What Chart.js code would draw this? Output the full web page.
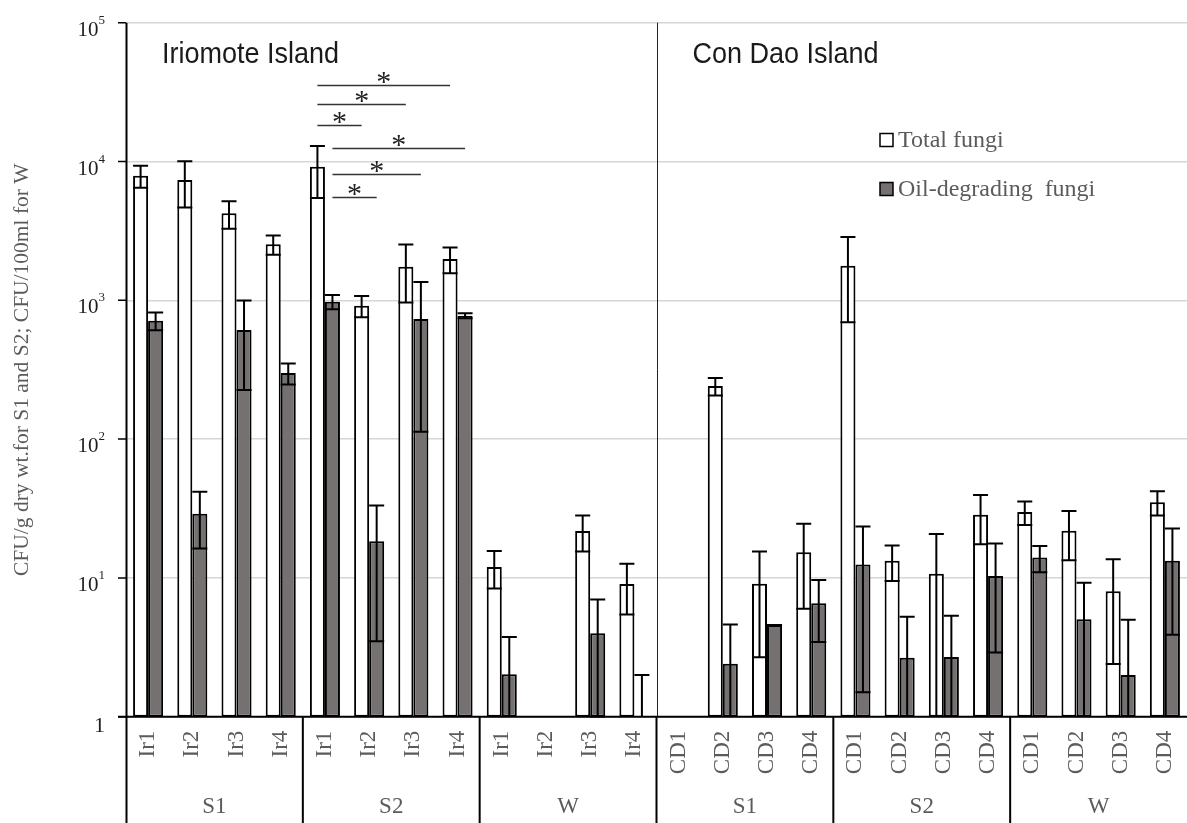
<!DOCTYPE html>
<html>
<head>
<meta charset="utf-8">
<title>Fungal counts – Iriomote and Con Dao islands</title>
<script src="https://cdn.jsdelivr.net/npm/chart.js@4/dist/chart.umd.min.js"></script>
<style>
  html, body { margin: 0; padding: 0; background: #ffffff; }
  #wrap { width: 1187px; height: 823px; }
</style>
</head>
<body>
<div id="wrap"><canvas id="chart" width="1187" height="823"></canvas></div>
<script>
// ---- data ----------------------------------------------------------------
const sites = ['Ir1','Ir2','Ir3','Ir4','Ir1','Ir2','Ir3','Ir4','Ir1','Ir2','Ir3','Ir4',
               'CD1','CD2','CD3','CD4','CD1','CD2','CD3','CD4','CD1','CD2','CD3','CD4'];
const sampleTypes = ['S1','S2','W','S1','S2','W'];
const islands = ['Iriomote Island','Con Dao Island'];
const seriesNames = ['Total fungi','Oil-degrading  fungi'];

// means and standard deviations (CFU); null = not detected
const totalMean = [7900, 7360, 4230, 2530, 9180, 914, 1746, 1985, 12.0, null, 21.8, 9.04,
                   null, 241, 9.08, 15.3, 1775, 13.3, 10.7, 28.5, 29.8, 21.9, 8.0, 35.1];
const totalSD   = [1430, 2700, 950, 400, 3730, 160, 780, 420, 3.6, null, 6.3, 3.6,
                   null, 35, 6.4, 9.3, 1080, 3.8, 10.0, 11.0, 5.7, 8.5, 5.6, 7.0];
const oilMean   = [713, 29.0, 611, 299, 977, 18.4, 733, 775, 2.02, null, 4.0, 1.0,
                   null, 2.41, 4.58, 6.56, 12.5, 2.66, 2.69, 10.3, 14.0, 5.03, 2.0, 13.3];
const oilSD     = [105, 12.7, 385, 52, 115, 14.9, 620, 32, 1.73, null, 3.0, 1.0,
                   null, 2.2, 0.0, 3.1, 11.0, 2.6, 2.65, 7.4, 3.0, 4.2, 3.0, 9.4];

const yTickValues = [1, 10, 100, 1000, 10000, 100000];
const yTitle = 'CFU/g dry wt.for S1 and S2; CFU/100ml for W';

// significant differences (series index, compared sites, bracket height in CFU)
const sigPairs = [
  { series: 0, from: 4, to: 7, level: 35700 },
  { series: 0, from: 4, to: 6, level: 25800 },
  { series: 0, from: 4, to: 5, level: 18300 },
  { series: 1, from: 4, to: 7, level: 12600 },
  { series: 1, from: 4, to: 6, level: 8130 },
  { series: 1, from: 4, to: 5, level: 5520 }
];

// ---- styling -------------------------------------------------------------
const SERIF = '"Liberation Serif", "Times New Roman", serif';
const SANS = '"Liberation Sans", Arial, sans-serif';
const WHITE_FILL = '#ffffff';
const GREY_FILL = '#767171';
const LABEL_GREY = '#5b5b5b';

const seriesMeans = [totalMean, oilMean];
const seriesSDs = [totalSD, oilSD];

const decor = {
  id: 'decor',
  afterDatasetsDraw(chart) {
    const { ctx, chartArea: a, scales: { y } } = chart;
    ctx.save();
    ctx.beginPath();
    ctx.rect(a.left, a.top - 1, a.right - a.left, a.bottom - a.top + 2);
    ctx.clip();
    // error bars (mean ± SD)
    ctx.strokeStyle = '#000';
    ctx.lineWidth = 2;
    seriesMeans.forEach((means, di) => {
      const meta = chart.getDatasetMeta(di);
      const sds = seriesSDs[di];
      means.forEach((v, i) => {
        if (v == null) return;
        const bar = meta.data[i];
        const half = bar.width / 2;
        const hi = v + sds[i];
        const lo = v - sds[i];
        const yHi = y.getPixelForValue(hi);
        const yLo = lo >= 1 ? y.getPixelForValue(lo) : a.bottom;
        ctx.beginPath();
        ctx.moveTo(bar.x, yLo);
        ctx.lineTo(bar.x, yHi);
        ctx.moveTo(bar.x - half, yHi);
        ctx.lineTo(bar.x + half, yHi);
        if (lo >= 1) {
          ctx.moveTo(bar.x - half, yLo);
          ctx.lineTo(bar.x + half, yLo);
        }
        ctx.stroke();
      });
    });
    ctx.restore();
  },
  afterDraw(chart) {
    const { ctx, chartArea: a, scales: { x, y } } = chart;
    const H = chart.height;
    const catW = x.getPixelForValue(1) - x.getPixelForValue(0);
    const boundary = i => x.getPixelForValue(i) - catW / 2;
    ctx.save();

    // island divider inside the plot
    ctx.strokeStyle = '#222';
    ctx.lineWidth = 1;
    const mid = Math.round(boundary(12)) + 0.5;
    ctx.beginPath();
    ctx.moveTo(mid, a.top);
    ctx.lineTo(mid, a.bottom);
    ctx.stroke();

    // axes
    ctx.strokeStyle = '#000';
    ctx.lineWidth = 2;
    ctx.beginPath();
    ctx.moveTo(a.left + 0.5, a.top);
    ctx.lineTo(a.left + 0.5, H);
    ctx.moveTo(a.left - 8, a.bottom);
    ctx.lineTo(a.right, a.bottom);
    ctx.stroke();
    ctx.lineWidth = 1.5;
    ctx.beginPath();
    yTickValues.forEach(v => {
      const py = y.getPixelForValue(v);
      ctx.moveTo(a.left - 8, py);
      ctx.lineTo(a.left, py);
    });
    ctx.stroke();

    // group dividers below the axis
    ctx.lineWidth = 2;
    ctx.beginPath();
    for (let g = 1; g < sampleTypes.length; g++) {
      const bx = boundary(g * 4);
      ctx.moveTo(bx, a.bottom);
      ctx.lineTo(bx, H);
    }
    ctx.stroke();

    // y tick labels: 1, 10^1 ... 10^5
    ctx.fillStyle = '#1e1e1e';
    ctx.textBaseline = 'alphabetic';
    const labelRight = a.left - 21;
    yTickValues.forEach(v => {
      const py = y.getPixelForValue(v) + 13;
      const exp = Math.round(Math.log10(v));
      if (exp === 0) {
        ctx.font = '22px ' + SERIF;
        ctx.textAlign = 'right';
        ctx.fillText('1', labelRight, py + 2);
        return;
      }
      ctx.font = '13px ' + SERIF;
      const ew = ctx.measureText(String(exp)).width;
      ctx.textAlign = 'left';
      ctx.fillText(String(exp), labelRight - ew, py - 12);
      ctx.font = '21px ' + SERIF;
      ctx.textAlign = 'right';
      ctx.fillText('10', labelRight - ew, py);
    });

    // y axis title
    ctx.save();
    ctx.translate(22, (a.top + a.bottom) / 2);
    ctx.rotate(-Math.PI / 2);
    ctx.font = '21.5px ' + SERIF;
    ctx.fillStyle = LABEL_GREY;
    ctx.textAlign = 'center';
    ctx.textBaseline = 'middle';
    ctx.fillText(yTitle, 0, 0);
    ctx.restore();

    // category labels (rotated) and group labels
    ctx.fillStyle = LABEL_GREY;
    sites.forEach((s, i) => {
      ctx.save();
      ctx.translate(x.getPixelForValue(i), a.bottom + 14);
      ctx.rotate(-Math.PI / 2);
      ctx.font = '23px ' + SERIF;
      ctx.textAlign = 'right';
      ctx.textBaseline = 'middle';
      ctx.fillText(s, 0, 0);
      ctx.restore();
    });
    ctx.font = '23px ' + SERIF;
    ctx.textAlign = 'center';
    ctx.textBaseline = 'middle';
    sampleTypes.forEach((g, k) => {
      const cx = (x.getPixelForValue(k * 4) + x.getPixelForValue(k * 4 + 3)) / 2;
      ctx.fillText(g, cx, a.bottom + 90);
    });

    // island names
    ctx.fillStyle = '#1a1a1a';
    ctx.font = '30px ' + SANS;
    ctx.textAlign = 'left';
    ctx.textBaseline = 'alphabetic';
    islands.forEach((name, k) => {
      const left = boundary(k * 12) + 36;
      const natural = ctx.measureText(name).width;
      ctx.fillText(name, left, a.top + 40, natural * 0.9);
    });

    // legend
    const fills = [WHITE_FILL, GREY_FILL];
    const legendX = 880;
    const rowY = [140, 189];
    seriesNames.forEach((name, k) => {
      ctx.fillStyle = fills[k];
      ctx.fillRect(legendX, rowY[k] - 6.5, 13, 13);
      ctx.strokeStyle = '#000';
      ctx.lineWidth = 1.5;
      ctx.strokeRect(legendX, rowY[k] - 6.5, 13, 13);
      ctx.fillStyle = LABEL_GREY;
      ctx.font = '24px ' + SERIF;
      ctx.textAlign = 'left';
      ctx.textBaseline = 'middle';
      ctx.fillText(name, legendX + 18, rowY[k] + 1);
    });

    // significance brackets
    ctx.strokeStyle = '#333';
    ctx.lineWidth = 1.5;
    ctx.fillStyle = '#222';
    ctx.font = '30px ' + SERIF;
    ctx.textAlign = 'center';
    ctx.textBaseline = 'alphabetic';
    sigPairs.forEach(p => {
      const meta = chart.getDatasetMeta(p.series);
      const x1 = meta.data[p.from].x;
      const x2 = meta.data[p.to].x;
      const py = Math.round(y.getPixelForValue(p.level)) + 0.5;
      ctx.beginPath();
      ctx.moveTo(x1, py);
      ctx.lineTo(x2, py);
      ctx.stroke();
      ctx.fillText('*', (x1 + x2) / 2, py + 5);
    });

    ctx.restore();
  }
};

new Chart(document.getElementById('chart'), {
  type: 'bar',
  data: {
    labels: sites,
    datasets: [
      {
        label: seriesNames[0],
        data: totalMean,
        backgroundColor: WHITE_FILL,
        borderColor: '#000',
        borderWidth: 2,
        borderSkipped: false
      },
      {
        label: seriesNames[1],
        data: oilMean,
        backgroundColor: GREY_FILL,
        borderColor: '#000',
        borderWidth: 2,
        borderSkipped: false
      }
    ]
  },
  options: {
    responsive: false,
    animation: false,
    devicePixelRatio: 1,
    layout: { padding: { left: 126, top: 22.7, right: 0, bottom: 106.3 } },
    datasets: { bar: { categoryPercentage: 0.68, barPercentage: 1.0 } },
    plugins: { legend: { display: false }, tooltip: { enabled: false } },
    scales: {
      x: { display: false, offset: true },
      y: {
        type: 'logarithmic',
        min: 1,
        max: 100000,
        afterBuildTicks: scale => { scale.ticks = yTickValues.map(v => ({ value: v })); },
        ticks: { display: false },
        border: { display: false },
        grid: { color: '#d6d6d6', lineWidth: 1.5, drawTicks: false }
      }
    }
  },
  plugins: [decor]
});
</script>
</body>
</html>
